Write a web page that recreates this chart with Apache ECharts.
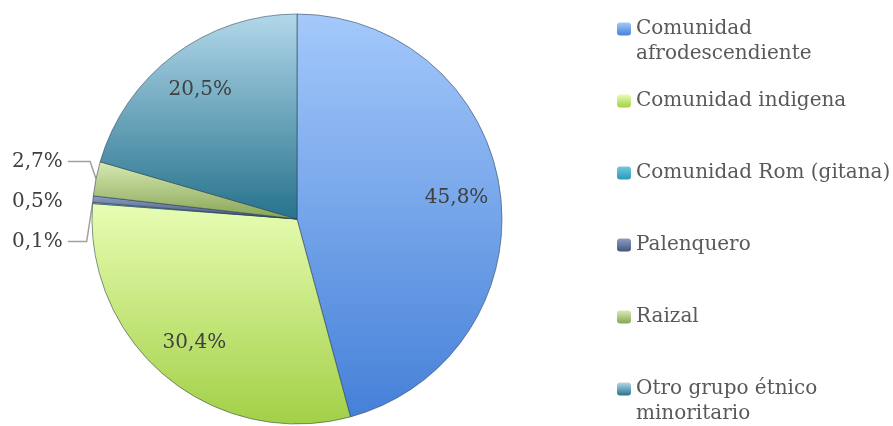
<!DOCTYPE html>
<html style="height: 100%">
<head>
<meta charset="utf-8">
<script src="https://cdn.jsdelivr.net/npm/echarts@6/dist/echarts.min.js"></script>
</head>
<body style="height: 100%; margin: 0; background: #fff">
<div id="container" style="width: 893px; height: 426px"></div>
<script type="text/javascript">
// data
var categories = ['Comunidad afrodescendiente', 'Comunidad indigena', 'Comunidad Rom (gitana)',
                  'Palenquero', 'Raizal', 'Otro grupo étnico minoritario'];
var values = [45.8, 30.4, 0.1, 0.5, 2.7, 20.5];
var legendLines = [['Comunidad', 'afrodescendiente'], ['Comunidad indigena'], ['Comunidad Rom (gitana)'],
                   ['Palenquero'], ['Raizal'], ['Otro grupo étnico', 'minoritario']];

// top / bottom gradient colours for each slice
var colorsTop = ['#a4c9fb', '#e8fdb4', '#70cce0', '#8c9ec4', '#d8eab4', '#b2d8ea'];
var colorsBottom = ['#4580d8', '#a2d046', '#2a98b8', '#44557c', '#86a454', '#26728c'];
// the original draws no leader line for this one
var noLeader = { 'Palenquero': true };

function grad(i) {
    return new echarts.graphic.LinearGradient(0, 0, 0, 1, [
        { offset: 0, color: colorsTop[i] },
        { offset: 1, color: colorsBottom[i] }
    ]);
}

function pct(p) {
    return p.value.toFixed(1).replace('.', ',') + '%';
}

var font = 'DejaVu Serif';
var lh = 25;
var dom = document.getElementById('container');
var myChart = echarts.init(dom);

var pieData = categories.map(function (c, i) {
    var small = values[i] < 5;
    return {
        name: c,
        value: values[i],
        itemStyle: { color: grad(i) },
        label: { show: small },
        labelLine: { show: small, lineStyle: { opacity: noLeader[c] ? 0 : 1 } }
    };
});

// labels of the big slices sit further out than "inside" would put them
var labelData = categories.map(function (c, i) {
    return {
        name: c,
        value: values[i],
        label: { show: values[i] >= 5 }
    };
});

var legends = categories.map(function (c, i) {
    var lines = legendLines[i];
    var twoLines = lines.length > 1;
    // a blank first line keeps the icon level with the first text line
    var text = twoLines ? '\u00a0\n' + lines.join('\n') : lines[0];
    var centre = 29 + i * 72;
    return {
        orient: 'vertical',
        left: 617,
        top: centre - (twoLines ? 1.5 * lh : 0.5 * lh),
        itemWidth: 14,
        itemHeight: 13,
        itemGap: 0,
        padding: 0,
        selectedMode: false,
        itemStyle: { borderWidth: 0 },
        data: [c],
        formatter: function () { return text; },
        textStyle: {
            fontFamily: font,
            fontSize: 20,
            color: '#595959',
            lineHeight: lh
        }
    };
});

var option = {
    animation: false,
    legend: legends,
    series: [
        {
            type: 'pie',
            center: [297, 219],
            radius: [0, 205],
            startAngle: 90,
            clockwise: true,
            data: pieData,
            itemStyle: {
                borderColor: 'rgba(40,60,80,0.55)',
                borderWidth: 1
            },
            label: {
                position: 'outside',
                alignTo: 'edge',
                edgeDistance: 12,
                fontFamily: font,
                fontSize: 20,
                color: '#404040',
                lineHeight: 38,
                formatter: pct
            },
            labelLine: {
                length: 6,
                length2: 8,
                lineStyle: { color: '#a0a0a0', width: 1.5 }
            },
            // lift the small labels a bit and redraw their leader lines to match
            labelLayout: function (p) {
                if (values[p.dataIndex] >= 5 || !p.labelLinePoints) {
                    return {};
                }
                var dy = -16;
                var pts = p.labelLinePoints;
                var ly = p.labelRect.y + p.labelRect.height / 2 + dy;
                return {
                    dy: dy,
                    labelLinePoints: [pts[0], [pts[1][0], ly], [pts[2][0], ly]]
                };
            }
        },
        {
            type: 'pie',
            center: [297, 219],
            radius: [0, 316],
            startAngle: 90,
            clockwise: true,
            silent: true,
            data: labelData,
            itemStyle: { color: 'rgba(0,0,0,0)', borderWidth: 0 },
            label: {
                position: 'inside',
                fontFamily: font,
                fontSize: 20,
                color: '#404040',
                formatter: pct
            },
            labelLine: { show: false }
        }
    ]
};
myChart.setOption(option);
</script>
</body>
</html>
